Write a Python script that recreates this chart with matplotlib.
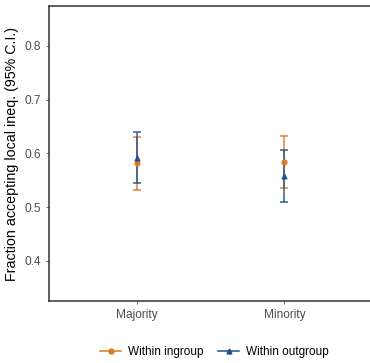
import matplotlib.pyplot as plt

plt.rcParams['font.family'] = ['Liberation Sans', 'DejaVu Sans']

groups = ['Majority', 'Minority']
series = ['Within ingroup', 'Within outgroup']
means = {'Within ingroup': [0.582, 0.584], 'Within outgroup': [0.592, 0.558]}
lower = {'Within ingroup': [0.532, 0.535], 'Within outgroup': [0.544, 0.510]}
upper = {'Within ingroup': [0.630, 0.633], 'Within outgroup': [0.640, 0.607]}

colors = {'Within ingroup': '#DC7A1E', 'Within outgroup': '#1F4E8C'}
markers = {'Within ingroup': 'o', 'Within outgroup': '^'}

fig = plt.figure(figsize=(3.70, 3.63), dpi=100)
ax = fig.add_axes([0.1324, 0.171, 0.867, 0.8125])

x = list(range(1, len(groups) + 1))
for s in series:
    m = means[s]
    yerr = [[m[i] - lower[s][i] for i in range(len(m))],
            [upper[s][i] - m[i] for i in range(len(m))]]
    ax.errorbar(x, m, yerr=yerr, fmt=markers[s], color=colors[s],
                ms=3.5, capsize=3, elinewidth=1.1, capthick=1.1,
                label=s, alpha=0.9)

ax.set_xlim(0.4, 2.58)
ax.set_ylim(0.3256, 0.874)
ax.set_xticks(x)
ax.set_xticklabels(groups)
ax.set_yticks([0.4, 0.5, 0.6, 0.7, 0.8])
ax.tick_params(colors='#4d4d4d', labelsize=8.6, length=2.5, width=0.6,
               labelcolor='#4d4d4d')
ax.set_ylabel('Fraction accepting local ineq. (95% C.I.)', fontsize=10.3,
              color='black', labelpad=4)

for side in ['top', 'left', 'bottom']:
    ax.spines[side].set_color('#333333')
    ax.spines[side].set_linewidth(1.1)
ax.spines['right'].set_visible(False)

handles = [plt.Line2D([], [], color=colors[s], marker=markers[s], ms=3.5,
                      lw=1.1) for s in series]
fig.legend(handles, series, loc='center', bbox_to_anchor=(0.58, 0.03),
           ncol=2, frameon=False, fontsize=8.5, handlelength=1.8,
           columnspacing=1.2, handletextpad=0.6)

fig.savefig('out.png', dpi=100)
